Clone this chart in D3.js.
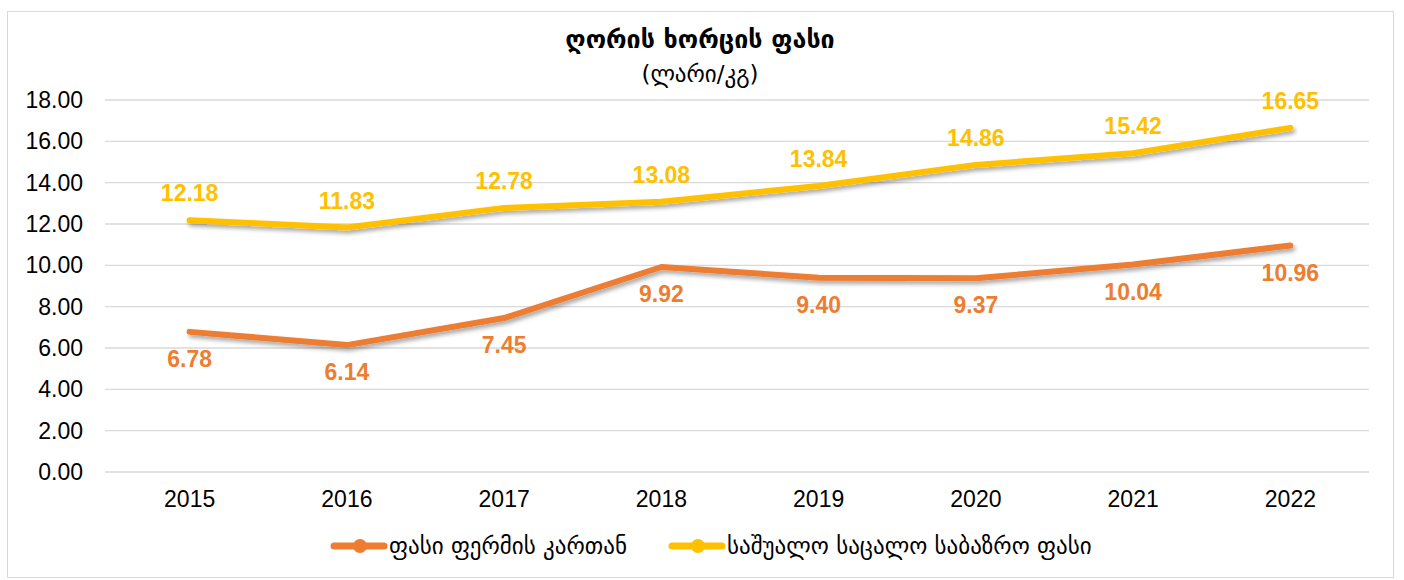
<!DOCTYPE html>
<html>
<head>
<meta charset="utf-8">
<script src="https://cdn.jsdelivr.net/npm/d3@7"></script>
<style>
  body { margin: 0; background: #fff; }
  svg text { font-family: "Liberation Sans", Arial, sans-serif; }
  .geo { font-family: "DejaVu Sans", "Noto Sans", sans-serif; }
</style>
</head>
<body>
<div id="chart"></div>
<script>
// chart data
var years = ['2015', '2016', '2017', '2018', '2019', '2020', '2021', '2022'];
var farmPrice = [6.78, 6.14, 7.45, 9.92, 9.40, 9.37, 10.04, 10.96];
var retailPrice = [12.18, 11.83, 12.78, 13.08, 13.84, 14.86, 15.42, 16.65];
var yTicks = [0, 2, 4, 6, 8, 10, 12, 14, 16, 18];
var seriesNames = ['ფასი ფერმის კართან', 'საშუალო საცალო საბაზრო ფასი'];

var W = 1404, H = 580;
var margin = { left: 111, right: 35, top: 100, bottom: 108 };

var svg = d3.select('#chart').append('svg')
    .attr('width', W)
    .attr('height', H);

// drop shadow for the lines
var defs = svg.append('defs');
var f = defs.append('filter').attr('id', 'shadow')
    .attr('x', '-5%').attr('y', '-20%').attr('width', '110%').attr('height', '140%');
f.append('feDropShadow')
    .attr('dx', 2).attr('dy', 3).attr('stdDeviation', 2)
    .attr('flood-color', '#000').attr('flood-opacity', 0.35);

// outer frame
svg.append('rect')
    .attr('x', 7.5).attr('y', 11.5)
    .attr('width', 1386).attr('height', 566)
    .attr('fill', '#fff')
    .attr('stroke', '#d9d9d9');

var x = d3.scaleBand().domain(years).range([margin.left, W - margin.right]);
var y = d3.scaleLinear().domain([0, 18]).range([H - margin.bottom, margin.top]);

// gridlines
svg.append('g').selectAll('line')
    .data(yTicks)
    .enter().append('line')
    .attr('x1', margin.left - 6)
    .attr('x2', W - margin.right)
    .attr('y1', function (d) { return y(d); })
    .attr('y2', function (d) { return y(d); })
    .attr('stroke', '#d9d9d9')
    .attr('stroke-width', 1.3);

// y axis labels
var yAxis = d3.axisLeft(y).tickValues(yTicks).tickSize(0).tickPadding(0)
    .tickFormat(d3.format('.2f'));
var yg = svg.append('g').attr('transform', 'translate(' + 83 + ',0)').call(yAxis);
yg.select('.domain').remove();
yg.selectAll('text').attr('font-size', 23).attr('fill', '#000')
    .attr('font-family', '"Liberation Sans", Arial, sans-serif');

// x axis labels
var xAxis = d3.axisBottom(x).tickSize(0).tickPadding(0);
var xg = svg.append('g').attr('transform', 'translate(0,' + (y(0) + 19) + ')').call(xAxis);
xg.select('.domain').remove();
xg.selectAll('text').attr('font-size', 23).attr('fill', '#000')
    .attr('font-family', '"Liberation Sans", Arial, sans-serif');

var cx = function (d, i) { return x(years[i]) + x.bandwidth() / 2; };

var line = d3.line()
    .x(cx)
    .y(function (d) { return y(d); });

var series = [
    { values: retailPrice, color: '#FFC000', dy: -27 },
    { values: farmPrice, color: '#ED7D31', dy: 27 }
];

series.forEach(function (s) {
    svg.append('path')
        .datum(s.values)
        .attr('d', line)
        .attr('fill', 'none')
        .attr('stroke', s.color)
        .attr('stroke-width', 6)
        .attr('stroke-linecap', 'round')
        .attr('stroke-linejoin', 'round')
        .attr('filter', 'url(#shadow)');
});

series.forEach(function (s) {
    svg.append('g').selectAll('text')
        .data(s.values)
        .enter().append('text')
        .attr('x', cx)
        .attr('y', function (d) { return y(d) + s.dy; })
        .attr('dy', '0.35em')
        .attr('text-anchor', 'middle')
        .attr('font-size', 23)
        .attr('font-weight', 'bold')
        .attr('fill', s.color)
        .text(function (d) { return d.toFixed(2); });
});

// title
svg.append('text')
    .attr('class', 'geo')
    .attr('x', 700).attr('y', 39)
    .attr('dy', '0.35em')
    .attr('text-anchor', 'middle')
    .attr('font-size', 25)
    .attr('font-weight', 'bold')
    .attr('fill', '#000')
    .text('ღორის ხორცის ფასი');

svg.append('text')
    .attr('class', 'geo')
    .attr('x', 700).attr('y', 74)
    .attr('dy', '0.35em')
    .attr('text-anchor', 'middle')
    .attr('font-size', 23)
    .attr('fill', '#000')
    .text('(ლარი/კგ)');

// legend
var legendColors = ['#ED7D31', '#FFC000'];
var legendX = [334, 672];
seriesNames.forEach(function (name, i) {
    var g = svg.append('g').attr('transform', 'translate(' + legendX[i] + ',546)');
    g.append('line')
        .attr('x1', 0).attr('x2', 50)
        .attr('stroke', legendColors[i])
        .attr('stroke-width', 7)
        .attr('stroke-linecap', 'round');
    g.append('circle')
        .attr('cx', 26).attr('r', 7)
        .attr('fill', legendColors[i]);
    g.append('text')
        .attr('class', 'geo')
        .attr('x', 55)
        .attr('dy', '0.35em')
        .attr('font-size', 23)
        .attr('fill', '#000')
        .text(name);
});
</script>
</body>
</html>
